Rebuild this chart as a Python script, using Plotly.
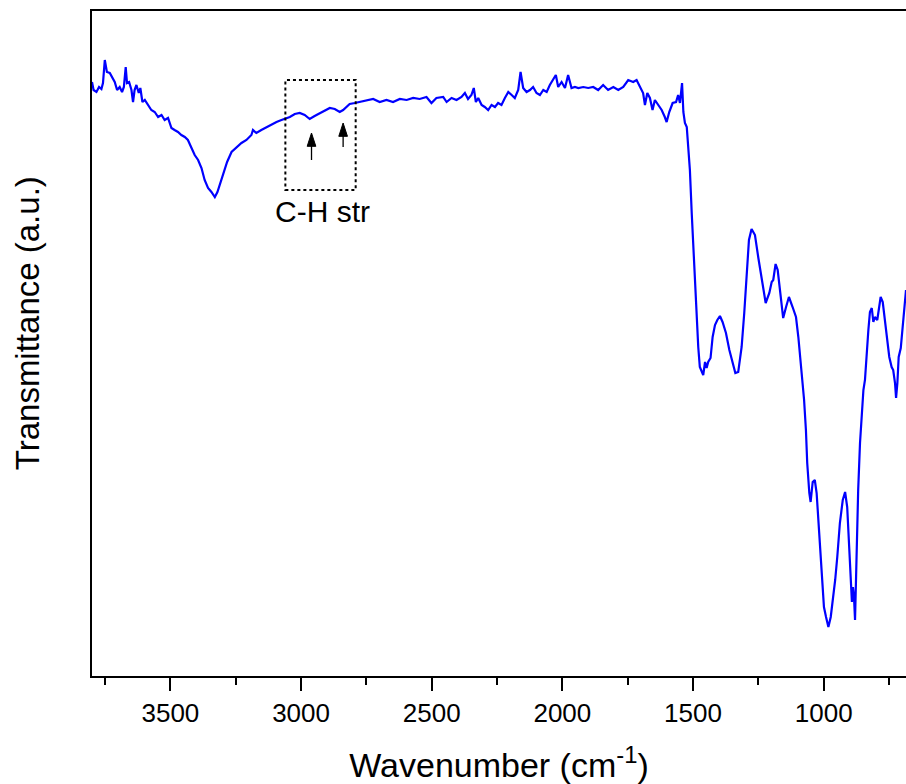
import plotly.graph_objects as go

# FTIR spectrum (wavenumber in cm-1, transmittance in arbitrary units)
wavenumber = [
    3800, 3794, 3783, 3773, 3764, 3758, 3751, 3743, 3732, 3722, 3713, 3704, 3694, 3685, 3678, 3671,
    3666, 3658, 3649, 3643, 3637, 3630, 3621, 3615, 3607, 3598, 3586, 3573, 3560, 3547, 3534, 3522,
    3509, 3496, 3484, 3471, 3458, 3445, 3433, 3420, 3407, 3394, 3381, 3369, 3356, 3343, 3330, 3320,
    3309, 3296, 3283, 3266, 3247, 3228, 3209, 3190, 3184, 3171, 3152, 3132, 3113, 3094, 3075, 3056,
    3043, 3024, 3005, 2986, 2967, 2948, 2928, 2909, 2890, 2871, 2852, 2839, 2826, 2814, 2794, 2775,
    2750, 2724, 2699, 2673, 2648, 2622, 2596, 2571, 2546, 2520, 2501, 2482, 2456, 2443, 2424, 2405,
    2386, 2373, 2361, 2348, 2339, 2331, 2322, 2309, 2297, 2284, 2271, 2258, 2246, 2233, 2220, 2207,
    2194, 2182, 2169, 2160, 2150, 2137, 2124, 2112, 2099, 2086, 2073, 2060, 2048, 2035, 2025, 2016,
    2003, 1990, 1978, 1965, 1952, 1939, 1920, 1901, 1882, 1863, 1844, 1825, 1805, 1786, 1767, 1748,
    1729, 1716, 1703, 1691, 1684, 1675, 1665, 1655, 1646, 1633, 1620, 1608, 1601, 1591, 1578, 1565,
    1557, 1550, 1542, 1537, 1531, 1524, 1518, 1512, 1505, 1499, 1493, 1486, 1480, 1474, 1467, 1461,
    1454, 1448, 1442, 1433, 1425, 1416, 1407, 1397, 1387, 1374, 1361, 1348, 1338, 1327, 1314, 1304,
    1295, 1286, 1276, 1263, 1250, 1237, 1222, 1208, 1199, 1193, 1184, 1176, 1167, 1155, 1144, 1133,
    1119, 1106, 1097, 1091, 1084, 1075, 1068, 1063, 1055, 1050, 1042, 1034, 1027, 1017, 1008, 999,
    991, 982, 973, 963, 956, 948, 938, 927, 918, 910, 902, 896, 892, 888, 884, 880,
    874, 868, 861, 855, 848, 842, 835, 829, 823, 816, 810, 804, 795, 787, 782, 774,
    765, 757, 749, 740, 734, 727, 723, 718, 713, 705, 698, 691, 685,
]
transmittance = [
    594, 586, 584, 589, 587, 593, 616, 604, 603, 598, 594, 586, 589, 584, 589, 609,
    593, 594, 586, 574, 586, 591, 583, 588, 574, 576, 571, 566, 564, 559, 561, 556,
    558, 548, 546, 544, 541, 539, 536, 529, 521, 516, 508, 496, 488, 484, 479, 484,
    493, 503, 514, 524, 529, 533, 536, 541, 546, 543, 546, 549, 551, 554, 556, 558,
    559, 562, 563, 561, 557, 560, 563, 565, 568, 567, 564, 566, 569, 572, 573, 574,
    575, 577, 574, 576, 574, 577, 576, 578, 577, 579, 573, 578, 579, 574, 578, 576,
    579, 583, 577, 581, 588, 574, 578, 571, 569, 566, 571, 569, 573, 571, 578, 584,
    581, 578, 586, 604, 588, 584, 586, 589, 583, 581, 586, 584, 591, 596, 601, 589,
    594, 588, 601, 588, 589, 588, 589, 588, 589, 586, 591, 586, 589, 586, 589, 596,
    594, 596, 589, 583, 571, 583, 578, 566, 576, 571, 566, 559, 554, 564, 573, 574,
    581, 573, 593, 564, 553, 549, 529, 506, 463, 429, 396, 363, 329, 309, 304, 301,
    314, 308, 314, 318, 339, 351, 356, 360, 354, 343, 326, 313, 303, 304, 329, 363,
    403, 436, 447, 441, 418, 396, 373, 383, 394, 396, 412, 406, 383, 358, 369, 379,
    369, 359, 339, 323, 299, 276, 246, 213, 183, 174, 194, 196, 183, 146, 109, 69,
    59, 49, 59, 79, 96, 119, 153, 176, 184, 169, 129, 89, 74, 89, 79, 56,
    129, 186, 233, 263, 286, 296, 329, 346, 364, 368, 354, 359, 356, 373, 379, 374,
    356, 336, 319, 309, 306, 293, 278, 293, 319, 328, 346, 369, 386,
]

x_tick_values = [3500, 3000, 2500, 2000, 1500, 1000]
x_tick_labels = ["3500", "3000", "2500", "2000", "1500", "1000"]

# C-H stretching markers
ch_arrow_wavenumbers = [2960, 2839]
ch_arrow_tips = [543, 553]
ch_arrow_tails = [516, 529]
ch_box_x = [3060, 2791]
ch_box_y = [486, 596]
ch_label = "C-H str"

FONT = "Arial, 'Liberation Sans', sans-serif"

fig = go.Figure()
fig.add_trace(go.Scatter(
    x=wavenumber, y=transmittance, mode="lines",
    line=dict(color="#0000FF", width=2.2), showlegend=False, hoverinfo="skip",
))

fig.add_shape(type="rect", xref="x", yref="y",
              x0=ch_box_x[0], x1=ch_box_x[1], y0=ch_box_y[0], y1=ch_box_y[1],
              line=dict(color="black", width=2, dash="dot"))

# upward arrows marking the C-H stretching bands
for wx, tip, tail in zip(ch_arrow_wavenumbers, ch_arrow_tips, ch_arrow_tails):
    fig.add_trace(go.Scatter(
        x=[wx, wx], y=[tail, tip], mode="lines+markers",
        line=dict(color="black", width=1.3),
        marker=dict(symbol="arrow", angleref="previous", size=[0, 14], color="black",
                    opacity=1, line=dict(width=1, color="black")),
        showlegend=False, hoverinfo="skip",
    ))

fig.add_annotation(x=sum(ch_box_x) / 2, y=ch_box_y[0], xref="x", yref="y",
                   text=ch_label, showarrow=False, yanchor="top", yshift=-3, xshift=2,
                   font=dict(family=FONT, size=30, color="black"))

# y-axis title (placed slightly above the axis centre as in the original)
fig.add_annotation(x=-0.079, y=0.53, xref="paper", yref="paper",
                   text="Transmittance (a.u.)", textangle=-90, showarrow=False,
                   xanchor="center", yanchor="middle",
                   font=dict(family=FONT, size=33, color="black"))

fig.update_layout(
    width=906, height=784,
    margin=dict(l=92, r=0, t=11, b=108),
    paper_bgcolor="white", plot_bgcolor="white",
    font=dict(family=FONT, color="black"),
    xaxis=dict(
        range=[3800, 685], showgrid=False, zeroline=False,
        showline=True, linecolor="black", linewidth=2, mirror=True,
        ticks="outside", ticklen=13, tickwidth=2, tickcolor="black",
        tickvals=x_tick_values, ticktext=x_tick_labels,
        tickfont=dict(family=FONT, size=26, color="black"),
        minor=dict(dtick=250, tick0=0, ticks="outside", ticklen=7, tickwidth=2, tickcolor="black"),
        title=dict(text="Wavenumber (cm<sup>-1</sup>)", standoff=28,
                   font=dict(family=FONT, size=34, color="black")),
    ),
    yaxis=dict(
        range=[0, 665], showgrid=False, zeroline=False,
        showline=True, linecolor="black", linewidth=2, mirror=False,
        ticks="", showticklabels=False,
    ),
)

fig.write_html("out.html")
